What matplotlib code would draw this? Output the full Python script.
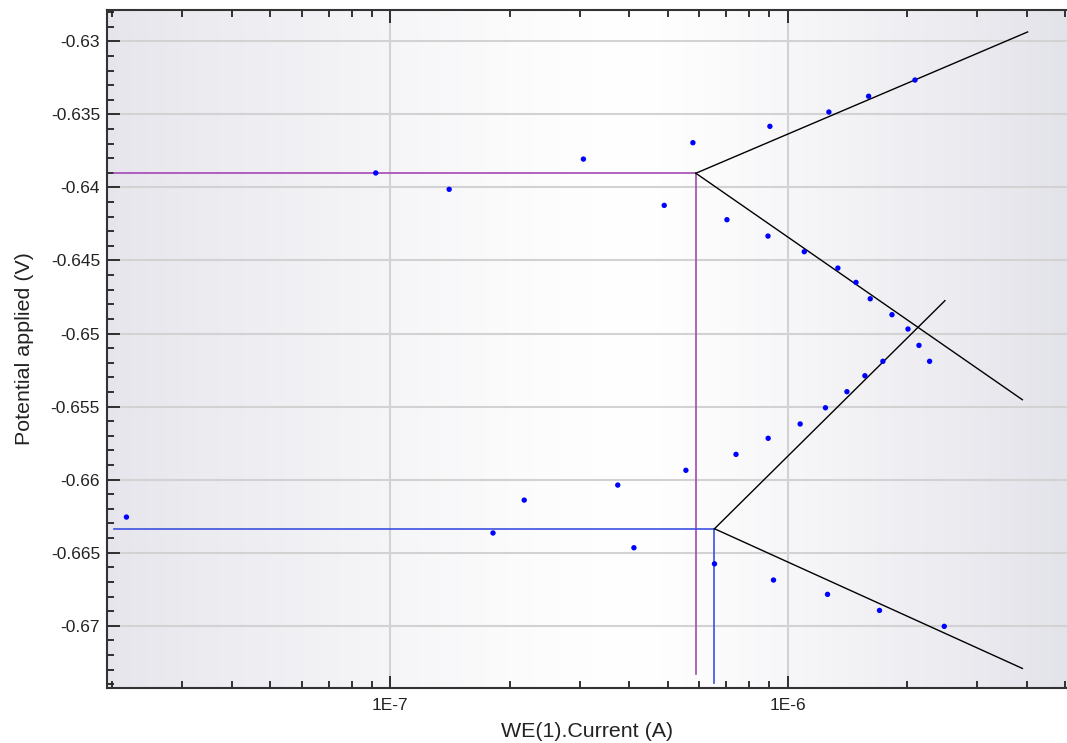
import numpy as np
import matplotlib
matplotlib.use("Agg")
import matplotlib.pyplot as plt
from matplotlib.ticker import FixedLocator, NullFormatter, MultipleLocator, FuncFormatter

plt.rcParams['font.family'] = ['Liberation Sans', 'DejaVu Sans']

# measured points: current (A), potential (V)
current = [2.17e-8, 9.2e-8, 1.408e-7, 3.065e-7, 5.78e-7, 4.895e-7, 7.04e-7,
           9.03e-7, 1.271e-6, 1.60e-6, 2.093e-6, 8.93e-7, 1.102e-6, 1.339e-6,
           1.487e-6, 1.615e-6, 1.832e-6, 2.01e-6, 2.142e-6, 2.278e-6, 1.738e-6,
           1.566e-6, 1.411e-6, 1.246e-6, 1.076e-6, 8.94e-7, 7.42e-7, 5.55e-7,
           3.74e-7, 2.175e-7, 1.815e-7, 4.107e-7, 6.55e-7, 9.22e-7, 1.261e-6,
           1.704e-6, 2.48e-6]
potential = [-0.66256, -0.63901, -0.64013, -0.63806, -0.63694, -0.64123, -0.64221,
             -0.63582, -0.63484, -0.63376, -0.63265, -0.64333, -0.64440, -0.64552,
             -0.64650, -0.64762, -0.64871, -0.64969, -0.65081, -0.65190, -0.65190,
             -0.65289, -0.65398, -0.65508, -0.65619, -0.65717, -0.65827, -0.65936,
             -0.66037, -0.66140, -0.66365, -0.66466, -0.66576, -0.66687, -0.66785,
             -0.66895, -0.67004]

# Tafel fit 1 (purple)
corr1_i, corr1_e = 5.88e-7, -0.63903
anodic1_end = (4.02e-6, -0.62936)
cathodic1_end = (3.90e-6, -0.65453)
# Tafel fit 2 (blue)
corr2_i, corr2_e = 6.55e-7, -0.66336
anodic2_end = (2.49e-6, -0.64775)
cathodic2_end = (3.90e-6, -0.67292)

x_left = 2.02e-8
purple_bottom = -0.67333
blue_bottom = -0.6739

fig = plt.figure(figsize=(10.67, 7.43), dpi=100)
ax = fig.add_axes([0.1003, 0.074, 0.9, 0.9125])
ax.set_xscale('log')
ax.set_xlim(1.939e-8, 5.06e-6)
ax.set_ylim(-0.67426, -0.62786)

# background gradient
xs = np.linspace(0, 1, 400)
peak = 0.55
shade = np.where(xs < peak, 1 - (1 - xs / peak) ** 1.3 * 0.10,
                 1 - ((xs - peak) / (1 - peak)) ** 1.2 * 0.11)
grad = np.stack([shade, shade, shade + (1 - shade) * 0.25], axis=-1)[None, :, :]
ax.imshow(grad, extent=[0, 1, 0, 1], transform=ax.transAxes, aspect='auto', zorder=0)

ax.grid(True, which='major', color='#d2d2d2', linewidth=1.5, zorder=1)
ax.set_axisbelow(True)

ax.plot([x_left, corr1_i, corr1_i], [corr1_e, corr1_e, purple_bottom],
        color='#a448b4', linewidth=1.2, zorder=3)
ax.plot([x_left, corr2_i, corr2_i], [corr2_e, corr2_e, blue_bottom],
        color='#3c50e0', linewidth=1.2, zorder=3)
for (ci, ce), end in [((corr1_i, corr1_e), anodic1_end), ((corr1_i, corr1_e), cathodic1_end),
                      ((corr2_i, corr2_e), anodic2_end), ((corr2_i, corr2_e), cathodic2_end)]:
    ax.plot([ci, end[0]], [ce, end[1]], color='black', linewidth=1.0, zorder=4)

ax.scatter(current, potential, s=15, color='#0000ff', edgecolors='none', zorder=5)

ax.yaxis.set_major_locator(MultipleLocator(0.005))
ax.yaxis.set_minor_locator(MultipleLocator(0.001))
ax.yaxis.set_major_formatter(FuncFormatter(lambda v, p: ('%g' % round(v, 4))))
ax.xaxis.set_major_locator(FixedLocator([1e-7, 1e-6]))
ax.xaxis.set_major_formatter(FuncFormatter(lambda v, p: '1E%d' % round(np.log10(v))))
minors = [m * 10.0 ** e for e in (-8, -7, -6) for m in range(2, 10)]
ax.xaxis.set_minor_locator(FixedLocator(minors))
ax.xaxis.set_minor_formatter(NullFormatter())

ax.tick_params(which='both', direction='in', top=True, right=False, colors='#222222',
               labelsize=12.5, width=1.3)
ax.tick_params(which='major', length=9)
ax.tick_params(which='minor', length=5)
ax.tick_params(axis='y', pad=5)
ax.tick_params(axis='x', pad=7)
for side in ('left', 'bottom', 'top'):
    ax.spines[side].set_linewidth(1.5)
    ax.spines[side].set_color('#333333')
ax.spines['right'].set_visible(False)

ax.set_xlabel('WE(1).Current (A)', fontsize=15.4, color='#222222', labelpad=7)
ax.set_ylabel('Potential applied (V)', fontsize=15.4, color='#222222', labelpad=12)

fig.savefig('out.png', dpi=100)
